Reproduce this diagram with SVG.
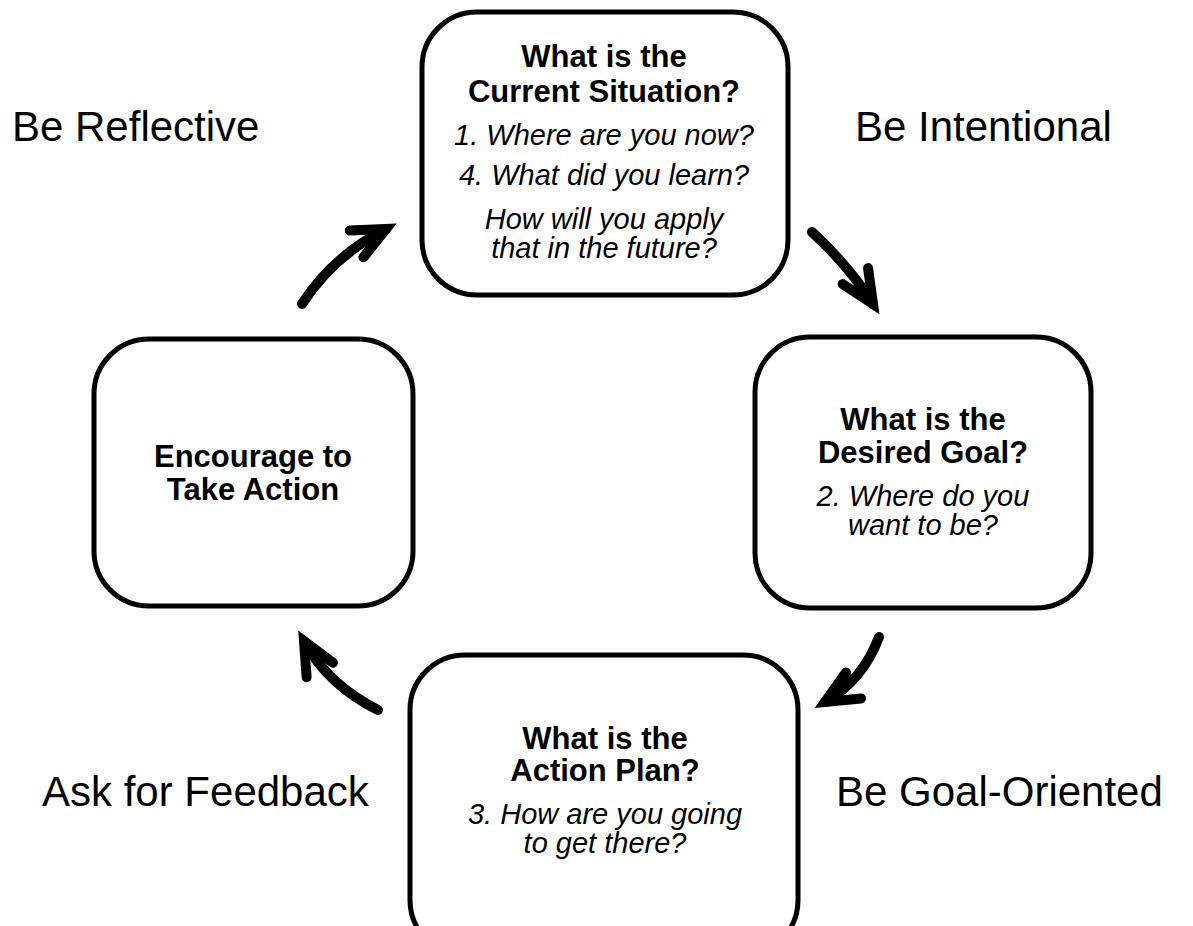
<svg xmlns="http://www.w3.org/2000/svg" width="1193" height="926" viewBox="0 0 1193 926">
  <style>
    .box { fill: #ffffff; stroke: #000000; stroke-width: 5; }
    .hd { font-family: "Liberation Sans", Arial, sans-serif; font-weight: bold; font-size: 31px; fill: #000; text-anchor: middle; }
    .q { font-family: "Liberation Sans", Arial, sans-serif; font-style: italic; font-size: 29px; fill: #000; text-anchor: middle; }
    .side { font-family: "Liberation Sans", Arial, sans-serif; font-size: 42px; fill: #000; }
    .flow { fill: none; stroke: #000; stroke-width: 10; stroke-linecap: round; }
  </style>
  <defs>
    <marker id="chev" markerUnits="userSpaceOnUse" viewBox="-40 -25 50 50" refX="0" refY="0" markerWidth="50" markerHeight="50" orient="auto" overflow="visible">
      <path d="M -33 -15 L 0 0 L -33 15" fill="none" stroke="#000" stroke-width="10" stroke-linecap="round" stroke-linejoin="miter"/>
    </marker>
  </defs>
  <rect width="1193" height="926" fill="#ffffff"/>

  <!-- side labels -->
  <text class="side" x="12" y="141">Be Reflective</text>
  <text class="side" x="855" y="141">Be Intentional</text>
  <text class="side" x="42" y="806">Ask for Feedback</text>
  <text class="side" x="836" y="806">Be Goal-Oriented</text>

  <!-- cycle arrows -->
  <g id="connectors">
    <path class="flow" d="M 302 304 Q 333 256 386 229" marker-end="url(#chev)"/>
    <path class="flow" d="M 812 232 Q 849 266 873 304" marker-end="url(#chev)"/>
    <path class="flow" d="M 879 637 Q 863 680 825 702" marker-end="url(#chev)"/>
    <path class="flow" d="M 378 710 Q 328 685 304 641" marker-end="url(#chev)"/>
  </g>

  <!-- current situation -->
  <g id="node-current">
    <rect class="box" x="422" y="12" width="366" height="283" rx="55" ry="55"/>
    <text class="hd" x="604" y="67">What is the</text>
    <text class="hd" x="604" y="102">Current Situation?</text>
    <text class="q" x="604" y="145">1. Where are you now?</text>
    <text class="q" x="604" y="185">4. What did you learn?</text>
    <text class="q" x="604" y="229">How will you apply</text>
    <text class="q" x="604" y="258">that in the future?</text>
  </g>

  <!-- desired goal -->
  <g id="node-goal">
    <rect class="box" x="755" y="337" width="336" height="271" rx="55" ry="55"/>
    <text class="hd" x="923" y="430">What is the</text>
    <text class="hd" x="923" y="463">Desired Goal?</text>
    <text class="q" x="923" y="506">2. Where do you</text>
    <text class="q" x="923" y="535">want to be?</text>
  </g>

  <!-- action plan -->
  <g id="node-plan">
    <rect class="box" x="410" y="655" width="388" height="300" rx="55" ry="55"/>
    <text class="hd" x="605" y="749">What is the</text>
    <text class="hd" x="605" y="781">Action Plan?</text>
    <text class="q" x="605" y="824">3. How are you going</text>
    <text class="q" x="605" y="853">to get there?</text>
  </g>

  <!-- encourage -->
  <g id="node-encourage">
    <rect class="box" x="94" y="339" width="319" height="267" rx="55" ry="55"/>
    <text class="hd" x="253" y="467">Encourage to</text>
    <text class="hd" x="253" y="500">Take Action</text>
  </g>
</svg>
